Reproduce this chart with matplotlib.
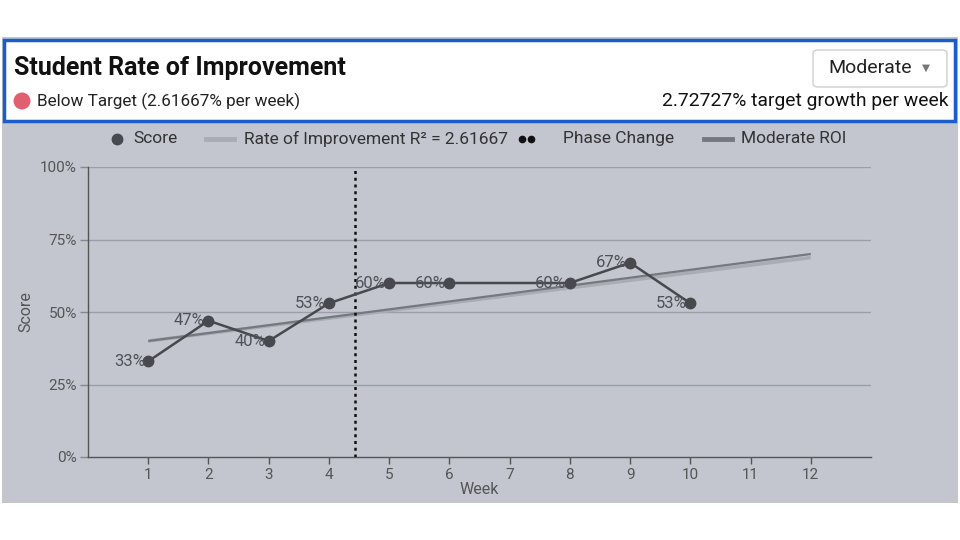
import matplotlib
matplotlib.use("Agg")
import matplotlib.pyplot as plt
from matplotlib.patches import Rectangle, FancyBboxPatch, Ellipse
from matplotlib.lines import Line2D

plt.rcParams['font.family'] = ['Roboto', 'DejaVu Sans']

# ---- data ----
weeks = [1, 2, 3, 4, 5, 6, 8, 9, 10]
scores = [33, 47, 40, 53, 60, 60, 60, 67, 53]
score_labels = ["33%", "47%", "40%", "53%", "60%", "60%", "60%", "67%", "53%"]
roi_x = [1, 12]
roi_rate = 2.61667
roi_start = 40.0
target_rate = 2.72727
target_start = 40.0
phase_change_week = 4.43
x_ticks = list(range(1, 13))
y_ticks = [0, 25, 50, 75, 100]
y_tick_labels = ["0%", "25%", "50%", "75%", "100%"]
legend_labels = ["Score", "Rate of Improvement R\u00b2 = 2.61667", "Phase Change", "Moderate ROI"]

W, H = 960, 540
fig = plt.figure(figsize=(W / 100, H / 100), dpi=100)
fig.patch.set_facecolor("white")

def fx(px):
    return px / W

def fy(py):
    return 1 - py / H

BG = "#c3c6cf"
DOT = "#48494e"
LIGHT = "#a9acb4"
DARK = "#75787f"

# grey panel
fig.patches.append(Rectangle((fx(2), fy(503)), fx(956), (503 - 37) / H,
                             transform=fig.transFigure, facecolor=BG, edgecolor="none", zorder=0))
# header white box with blue border
fig.patches.append(Rectangle((fx(4), fy(121)), fx(951), (121 - 40) / H,
                             transform=fig.transFigure, facecolor="white", edgecolor="#1a5cc8",
                             linewidth=2.5, zorder=1))
# dropdown box
fig.patches.append(FancyBboxPatch((fx(813), fy(87)), fx(134), (87 - 50) / H,
                                  boxstyle="round,pad=0,rounding_size=0.006",
                                  transform=fig.transFigure, facecolor="white", edgecolor="#cfcfcf",
                                  linewidth=1.0, zorder=2))
fig.text(fx(870), fy(68), "Moderate", ha="center", va="center", fontsize=14, color="#222222", zorder=3)
fig.text(fx(926), fy(68), "\u25BC", ha="center", va="center", fontsize=7.5, color="#777777", zorder=3)

# title & subtitles
fig.text(fx(14), fy(68), "Student Rate of Improvement", ha="left", va="center",
         fontsize=18, fontweight="bold", color="#111111", zorder=3)
fig.patches.append(Ellipse((fx(22), fy(101)), fx(17), 17 / H, transform=fig.transFigure,
                           facecolor="#e06070", edgecolor="none", zorder=3))
fig.text(fx(37), fy(101), "Below Target (2.61667% per week)", ha="left", va="center",
         fontsize=12.3, color="#222222", zorder=3)
fig.text(fx(948), fy(101), "2.72727% target growth per week", ha="right", va="center",
         fontsize=13.9, color="#111111", zorder=3)

# legend (manual placement)
LY = fy(138.5)
fig.add_artist(Line2D([fx(117)], [LY], marker="o", markersize=7.5, color=DOT, linestyle="none",
                      transform=fig.transFigure, zorder=4))
fig.text(fx(133), LY, legend_labels[0], ha="left", va="center", fontsize=12.5, color="#333333", zorder=4)
fig.add_artist(Line2D([fx(206), fx(234)], [LY, LY], color=LIGHT, linewidth=3.5,
                      transform=fig.transFigure, zorder=4))
fig.text(fx(244), LY, legend_labels[1], ha="left", va="center", fontsize=12.5, color="#333333", zorder=4)
fig.add_artist(Line2D([fx(522), fx(531)], [LY, LY], marker="o", markersize=4.5, color="#111111",
                      linestyle="none", transform=fig.transFigure, zorder=4))
fig.text(fx(563), LY, legend_labels[2], ha="left", va="center", fontsize=12.5, color="#333333", zorder=4)
fig.add_artist(Line2D([fx(704), fx(732)], [LY, LY], color=DARK, linewidth=3.5,
                      transform=fig.transFigure, zorder=4))
fig.text(fx(741), LY, legend_labels[3], ha="left", va="center", fontsize=12.5, color="#333333", zorder=4)

# axes
ax = fig.add_axes([fx(88), fy(457), fx(871 - 88), (457 - 167) / H])
ax.set_zorder(5)
ax.set_facecolor("none")
ax.set_xlim(0, 13)
ax.set_ylim(0, 100)

for yv in y_ticks[1:]:
    ax.axhline(yv, color="#9a9ea8", linewidth=1.0, zorder=1)

# trend lines
roi_y = [roi_start, roi_start + roi_rate * (roi_x[1] - roi_x[0])]
tgt_y = [target_start, target_start + target_rate * (roi_x[1] - roi_x[0])]
ax.plot(roi_x, roi_y, color=LIGHT, linewidth=2.5, zorder=2, solid_capstyle="butt")
ax.plot(roi_x, tgt_y, color=DARK, linewidth=1.6, zorder=3, solid_capstyle="butt")

# phase change
ax.axvline(phase_change_week, color="#111111", linewidth=1.8, linestyle=(0, (1.2, 1.5)), zorder=4)

# score line
ax.plot(weeks, scores, color=DOT, linewidth=1.8, marker="o", markersize=7.5, zorder=5)
for x, y, lab in zip(weeks, scores, score_labels):
    ax.annotate(lab, (x, y), xytext=(-2.5, 0), textcoords="offset points", ha="right", va="center",
                fontsize=12, color="#505158", zorder=6)

ax.set_xticks(x_ticks)
ax.set_xticklabels([str(v) for v in x_ticks])
ax.set_yticks(y_ticks)
ax.set_yticklabels(y_tick_labels)
ax.tick_params(axis="x", colors="#555555", labelsize=11, length=5, width=1, labelcolor="#555555", pad=3)
ax.tick_params(axis="y", colors="#888888", labelsize=11, length=6, width=1, labelcolor="#555555", pad=2)
for s in ["top", "right"]:
    ax.spines[s].set_visible(False)
for s in ["left", "bottom"]:
    ax.spines[s].set_color("#555555")
    ax.spines[s].set_linewidth(1.0)
ax.set_xlabel("Week", fontsize=11.5, color="#555555", labelpad=0)
ax.set_ylabel("Score", fontsize=11.5, color="#555555", labelpad=5)

fig.savefig("out.png", dpi=100)
